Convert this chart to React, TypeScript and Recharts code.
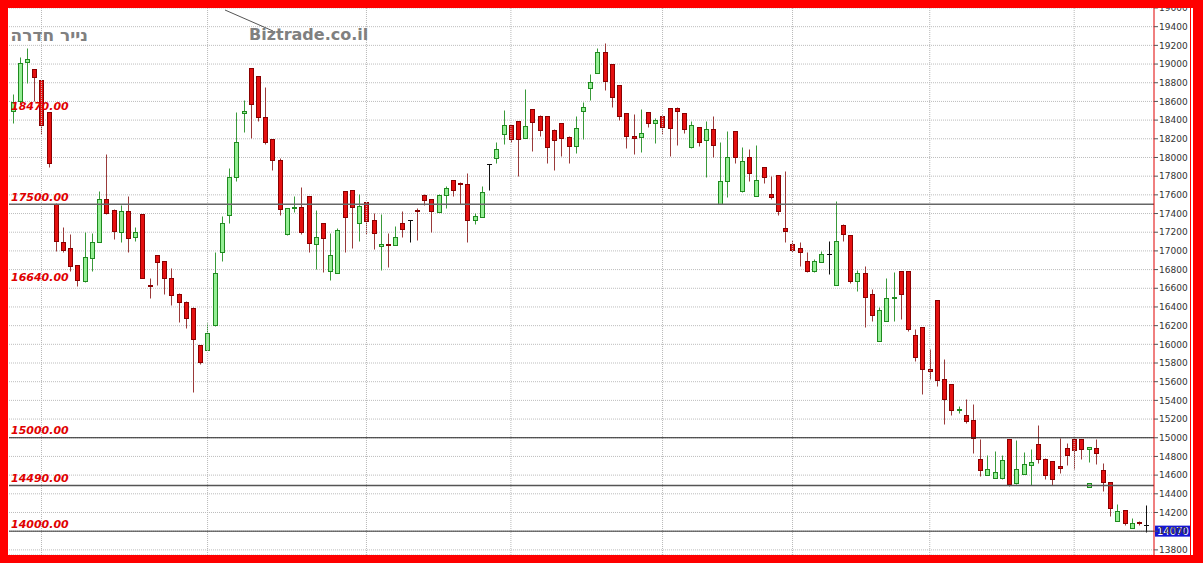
import React from "react";
import { ComposedChart, Bar, XAxis, YAxis, CartesianGrid, ReferenceLine } from "recharts";

// daily candles (oldest first)
const OPEN = [
  18493, 18600, 19021, 18946, 18825, 18482, 17504, 17093, 17029, 16847,
  16675, 16925, 17097, 17554, 17440, 17197, 17432, 17147, 17397, 16636,
  16957, 16893, 16714, 16536, 16457, 16393, 15993, 15939, 16206, 16993,
  17379, 17796, 18475, 18957, 18868, 18429, 18196, 17975, 17179, 17457,
  17468, 17589, 17071, 17296, 16786, 16768, 17636, 17654, 17296, 17521,
  17332, 17050, 17071, 17061, 17297, 17332, 17439, 17600, 17554, 17421,
  17600, 17754, 17732, 17718, 17332, 17368, 17929, 17993, 18246, 18346,
  18393, 18211, 18518, 18446, 18439, 18296, 18368, 18214, 18118, 18496,
  18743, 18904, 19129, 19004, 18779, 18475, 18232, 18218, 18486, 18368,
  18446, 18529, 18529, 18475, 18107, 18321, 18182, 18304, 17500, 17743,
  18279, 17636, 18004, 17593, 17896, 17611, 17814, 17243, 17071, 17029,
  16896, 16789, 16882, 16968, 16639, 17282, 17168, 16682, 16764, 16543,
  16039, 16254, 16497, 16789, 16789, 16096, 16186, 15739, 16471, 15632,
  15575, 15300, 15243, 15189, 14775, 14600, 14571, 14571, 14982, 14511,
  14614, 14704, 14929, 14775, 14750, 14696, 14893, 14989, 14989, 14882,
  14893, 14650, 14525, 14107, 14225, 14036, 14100, 14070,
];
const HIGH = [
  18679, 19075, 19171, 18950, 18830, 18490, 17510, 17261, 17182, 16850,
  17197, 17190, 17643, 18039, 17445, 17493, 17593, 17261, 17400, 16707,
  16960, 16895, 16822, 16545, 16460, 16400, 15995, 16231, 16991, 17375,
  17886, 18489, 18618, 18960, 18870, 18754, 18200, 17993, 17460, 17593,
  17689, 17590, 17439, 17300, 17189, 17250, 17640, 17655, 17611, 17525,
  17404, 17396, 17189, 17271, 17429, 17335, 17457, 17611, 17555, 17611,
  17700, 17761, 17735, 17839, 17404, 17696, 17930, 18171, 18504, 18350,
  18395, 18732, 18520, 18450, 18440, 18300, 18370, 18225, 18446, 18593,
  18893, 19171, 19225, 19005, 18780, 18480, 18468, 18521, 18490, 18421,
  18450, 18530, 18536, 18480, 18393, 18325, 18393, 18439, 18164, 18279,
  18280, 18107, 18093, 18129, 17900, 17804, 17815, 17857, 17118, 17100,
  16989, 16918, 16996, 17104, 17539, 17285, 17170, 16800, 16843, 16593,
  16396, 16711, 16771, 16790, 16790, 16168, 16190, 15954, 16475, 15846,
  15580, 15336, 15411, 15364, 14982, 14811, 14857, 14811, 14985, 14971,
  14846, 14875, 15132, 14780, 14755, 15000, 14946, 15000, 14990, 14905,
  14982, 14732, 14530, 14293, 14230, 14143, 14114, 14279,
];
const LOW = [
  18368, 18582, 18796, 18600, 18250, 17897, 17004, 16989, 16786, 16625,
  16670, 16790, 17090, 17400, 17125, 17090, 16993, 17104, 16710, 16493,
  16636, 16539, 16421, 16243, 16171, 15493, 15790, 15935, 16200, 16893,
  17304, 17750, 18268, 18207, 18386, 18143, 17868, 17386, 17175, 17421,
  17179, 16986, 16804, 16779, 16689, 16765, 16986, 17036, 17111, 17179,
  17018, 16796, 16825, 17060, 17154, 17100, 17118, 17493, 17200, 17420,
  17464, 17589, 17500, 17093, 17286, 17365, 17654, 17946, 18146, 18164,
  17804, 18210, 18064, 18225, 17946, 17861, 18018, 17946, 18046, 18196,
  18611, 18900, 18725, 18536, 18396, 18100, 18039, 18057, 18321, 18154,
  18250, 18018, 18136, 18261, 18105, 18118, 17796, 18004, 17500, 17582,
  17946, 17635, 17750, 17590, 17725, 17557, 17386, 17093, 16993, 16843,
  16775, 16775, 16880, 16754, 16635, 17111, 16657, 16568, 16182, 16247,
  16035, 16250, 16254, 16275, 16139, 15818, 15468, 15632, 15550, 15146,
  15247, 15264, 15161, 14839, 14589, 14598, 14570, 14554, 14482, 14510,
  14612, 14493, 14732, 14554, 14493, 14625, 14707, 14661, 14768, 14739,
  14721, 14429, 14161, 14105, 14064, 14035, 14071, 13995,
];
const CLOSE = [
  18589, 19011, 19057, 18861, 18343, 17939, 17111, 17011, 16843, 16693,
  16936, 17093, 17554, 17404, 17214, 17432, 17143, 17204, 16714, 16630,
  16879, 16714, 16529, 16457, 16279, 16054, 15814, 16117, 16763, 17296,
  17789, 18168, 18496, 18571, 18429, 18164, 17975, 17447, 17457, 17468,
  17207, 17089, 17147, 17143, 16957, 17225, 17361, 17468, 17482, 17325,
  17189, 17071, 17061, 17146, 17232, 17332, 17432, 17546, 17429, 17600,
  17671, 17654, 17718, 17332, 17375, 17629, 17929, 18089, 18346, 18196,
  18200, 18339, 18375, 18289, 18111, 18182, 18207, 18118, 18314, 18539,
  18804, 19129, 18814, 18646, 18439, 18225, 18207, 18261, 18364, 18396,
  18325, 18314, 18500, 18304, 18343, 18171, 18307, 18129, 17743, 18004,
  18000, 17964, 17832, 17761, 17789, 17582, 17429, 17214, 17011, 16993,
  16789, 16896, 16968, 16968, 17111, 17182, 16682, 16764, 16504, 16318,
  16364, 16497, 16507, 16543, 16168, 15861, 15739, 15718, 15614, 15418,
  15300, 15307, 15179, 14993, 14650, 14668, 14632, 14757, 14500, 14661,
  14721, 14739, 14775, 14600, 14561, 14679, 14811, 14864, 14875, 14900,
  14832, 14529, 14250, 14214, 14089, 14089, 14086, 14070,
];

// a second candle printed in the same slot
const EXTRA = [{ at: 149, open: 14471, high: 14520, low: 14470, close: 14518 }];

const MONTH_STARTS = [4, 27, 49, 69, 90, 108, 127, 147];

const PRICE_TICKS = [
  13800, 14000, 14200, 14400, 14600, 14800, 15000, 15200, 15400, 15600,
  15800, 16000, 16200, 16400, 16600, 16800, 17000, 17200, 17400, 17600,
  17800, 18000, 18200, 18400, 18600, 18800, 19000, 19200, 19400, 19600,
];

const LEVEL_LABELS = [18470, 17500, 16640, 15000, 14490, 14000];
const LEVEL_LINES = [17500, 15000, 14490, 14000];
const LAST_PRICE = 14070;

const rows = OPEN.map((o, i) => ({
  i,
  open: o,
  high: HIGH[i],
  low: LOW[i],
  close: CLOSE[i],
  extra: EXTRA.find((e) => e.at === i),
}));

const UP = { fill: "#94ee94", edge: "#1f8a1f", wick: "#3a9a3a" };
const DOWN = { fill: "#e41010", edge: "#8a0000", wick: "#9a3a3a" };

function drawOne(c: any, py: (p: number) => number, cx: number, key: string) {
  const yH = Math.round(py(c.high)) + 0.5;
  const yL = Math.round(py(c.low)) + 0.5;
  const yO = Math.round(py(c.open)) + 0.5;
  const yC = Math.round(py(c.close)) + 0.5;
  const wx = cx + 0.5;
  if (c.open === c.close) {
    return (
      <g key={key}>
        <line x1={wx} x2={wx} y1={yH} y2={yL} stroke="#111" />
        <line x1={cx - 2} x2={cx + 3} y1={yC} y2={yC} stroke="#111" />
      </g>
    );
  }
  const col = c.close > c.open ? UP : DOWN;
  const top = Math.min(yO, yC);
  const h = Math.max(Math.abs(yO - yC), 1);
  return (
    <g key={key}>
      <line x1={wx} x2={wx} y1={yH} y2={yL} stroke={col.wick} />
      <rect x={cx - 1.5} y={top} width={4} height={h} fill={col.fill} stroke={col.edge} />
    </g>
  );
}

function Candle(props: any) {
  const { x, y, width, height, payload } = props;
  if (!payload) return null;
  const span = payload.high - payload.low;
  const py = (p: number) => (span > 0 ? y + ((payload.high - p) / span) * height : y);
  const cx = Math.round(x + width / 2);
  return (
    <g>
      {drawOne(payload, py, cx, "m")}
      {payload.extra ? drawOne(payload.extra, py, cx, "x") : null}
    </g>
  );
}

const levelLabel = (value: number) => (props: any) => {
  const vb = props.viewBox ?? props;
  return (
    <text
      x={vb.x + 2}
      y={vb.y - 3.5}
      fill="#e00000"
      fontSize={11}
      fontWeight="bold"
      fontStyle="italic"
      fontFamily="DejaVu Sans, Verdana, sans-serif"
    >
      {value.toFixed(2)}
    </text>
  );
};

const lastLabel = (props: any) => {
  const vb = props.viewBox ?? props;
  const bx = vb.x + vb.width + 1;
  return (
    <g>
      <rect x={bx} y={vb.y + 1} width={36} height={11} fill="#1616d4" />
      <text
        x={bx + 2}
        y={vb.y + 10.5}
        fill="#ffffff"
        fontSize={10}
        fontFamily="DejaVu Sans, Verdana, sans-serif"
      >
        {LAST_PRICE}
      </text>
    </g>
  );
};

const lineStyle: Record<number, { stroke: string; w: number }> = {
  17500: { stroke: "#666", w: 1.5 },
  15000: { stroke: "#222", w: 1 },
  14490: { stroke: "#555", w: 1.5 },
  14000: { stroke: "#333", w: 1 },
};

export default function App() {
  return (
    <div
      style={{
        position: "absolute",
        left: 0,
        top: 0,
        width: 1203,
        height: 563,
        background: "#ffffff",
        fontFamily: "DejaVu Sans, sans-serif",
        overflow: "hidden",
      }}
    >
      <ComposedChart
        width={1203}
        height={563}
        data={rows}
        margin={{ top: 8, right: 11, bottom: 8, left: 9 }}
      >
        <CartesianGrid vertical={false} stroke="#bdbdbd" strokeDasharray="1 1" />
        <XAxis dataKey="i" type="category" hide padding={{ left: 0, right: 4 }} />
        <YAxis
          orientation="right"
          width={38}
          domain={[13745, 19600]}
          ticks={PRICE_TICKS}
          interval={0}
          allowDataOverflow
          tickSize={4}
          tickMargin={1}
          axisLine={{ stroke: "#e00000" }}
          tickLine={{ stroke: "#555" }}
          tick={{ fontSize: 9, fill: "#333", fontFamily: "DejaVu Sans, Verdana, sans-serif" }}
        />
        {MONTH_STARTS.map((m) => (
          <ReferenceLine key={"m" + m} x={m} stroke="#b8b8b8" strokeDasharray="1 1" />
        ))}
        {LEVEL_LINES.map((v) => (
          <ReferenceLine
            key={"l" + v}
            y={v}
            stroke={lineStyle[v].stroke}
            strokeWidth={lineStyle[v].w}
          />
        ))}
        <Bar
          dataKey={(d: any) => [d.low, d.high]}
          barSize={5}
          shape={Candle}
          isAnimationActive={false}
        />
        {LEVEL_LABELS.map((v) => (
          <ReferenceLine key={"t" + v} y={v} stroke="none" label={levelLabel(v)} />
        ))}
        <ReferenceLine y={LAST_PRICE} stroke="none" label={lastLabel} />
      </ComposedChart>

      <svg
        width={1203}
        height={563}
        style={{ position: "absolute", left: 0, top: 0, pointerEvents: "none" }}
      >
        <text
          x={88}
          y={41}
          textAnchor="end"
          fill="#808080"
          fontSize={17}
          fontWeight="bold"
          fontFamily="DejaVu Sans, sans-serif"
        >
          נייר חדרה
        </text>
        <line x1={225} y1={10} x2={273} y2={31} stroke="#555" />
        <text
          x={249}
          y={40}
          fill="#808080"
          fontSize={16}
          fontWeight="bold"
          fontFamily="DejaVu Sans, Verdana, sans-serif"
        >
          Biztrade.co.il
        </text>
      </svg>

      <div
        style={{
          position: "absolute",
          left: 0,
          top: 0,
          width: 1203,
          height: 563,
          boxSizing: "border-box",
          borderStyle: "solid",
          borderColor: "#ff0000",
          borderWidth: "8px 10px 8px 8px",
          pointerEvents: "none",
        }}
      />
      <div
        style={{
          position: "absolute",
          left: 1190,
          top: 8,
          width: 1,
          height: 547,
          background: "#ff0000",
        }}
      />
    </div>
  );
}
